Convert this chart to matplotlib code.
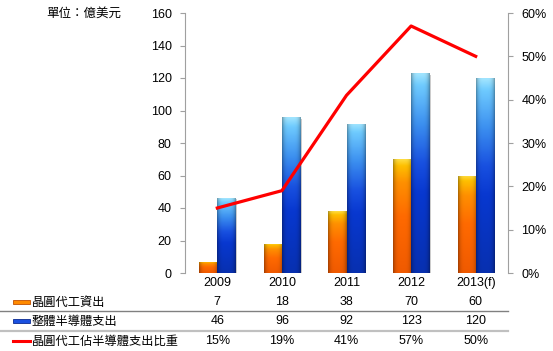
import numpy as np
import matplotlib.pyplot as plt
from matplotlib.colors import LinearSegmentedColormap
from matplotlib.transforms import blended_transform_factory

plt.rcParams['font.family'] = ['Liberation Sans', 'Noto Sans CJK TC', 'DejaVu Sans']

years = ["2009", "2010", "2011", "2012", "2013(f)"]
foundry = [7, 18, 38, 70, 60]
semi_total = [46, 96, 92, 123, 120]
share = [15, 19, 41, 57, 50]

row_names = ["晶圓代工資出", "整體半導體支出", "晶圓代工佔半導體支出比重"]

W, H = 553, 351
fig = plt.figure(figsize=(W / 100, H / 100), dpi=100)
ax = fig.add_axes([185 / W, 1 - 273 / H, (508 - 185) / W, (273 - 13) / H])
ax2 = ax.twinx()

x = np.arange(len(years))
bw = 0.28

# colour stops (position from bottom, colour)
orange_cmap = LinearSegmentedColormap.from_list(
    "o", [(0, "#f05a00"), (0.5, "#ff6a00"), (0.8, "#ff9000"),
          (0.95, "#ffc000"), (1, "#ffdc40")])
blue_cmap = LinearSegmentedColormap.from_list(
    "b", [(0, "#0830b0"), (0.4, "#0838d0"), (0.55, "#1850e0"),
          (0.75, "#3c90f0"), (0.95, "#70ccff"), (1, "#a0e4ff")])


def gradient_bars(ax, xs, heights, cmap):
    bars = ax.bar(xs, heights, bw, color="none", edgecolor="none", zorder=2)
    for b in bars:
        x0, w, h = b.get_x(), b.get_width(), b.get_height()
        v = np.linspace(0, 1, 80)[:, None]
        hshade = 1 - 0.3 * np.abs(np.linspace(-1, 1, 20))[None, :] ** 4
        img = cmap(np.clip(v * np.ones((1, 20)), 0, 1))
        img[..., :3] *= hshade[..., None]
        im = ax.imshow(img, extent=[x0, x0 + w, 0, h], origin="lower",
                       aspect="auto", zorder=3, interpolation="bilinear")
        im.set_clip_path(b)
        ax.add_patch(plt.Rectangle((x0 + w, 0), 0.025, h * 0.99,
                                   color="#cccccc", zorder=1, lw=0))
    return bars


gradient_bars(ax, x - bw / 2, foundry, orange_cmap)
gradient_bars(ax, x + bw / 2, semi_total, blue_cmap)

ax.set_xlim(-0.5, len(years) - 0.5)
ax.set_ylim(0, 160)
ax.set_yticks(range(0, 161, 20))
ax.set_xticks([])
for s in ["top", "bottom", "right"]:
    ax.spines[s].set_visible(False)
ax.spines["left"].set_color("#a0a0a0")
ax.tick_params(axis="y", colors="#a0a0a0", length=3.5, labelcolor="black",
               labelsize=9, pad=6)

ax2.plot(x, [s / 100 for s in share], color="#ff0000", lw=2.3, zorder=5)
ax2.set_ylim(0, 0.6)
ticks = np.arange(0, 0.61, 0.1)
ax2.set_yticks(ticks)
ax2.set_yticklabels([f"{int(round(t * 100))}%" for t in ticks])
for s in ["top", "bottom", "left"]:
    ax2.spines[s].set_visible(False)
ax2.spines["right"].set_color("#a0a0a0")
ax2.tick_params(axis="y", colors="#a0a0a0", length=3.5, labelcolor="black",
                labelsize=9, pad=6)
ax2.set_zorder(ax.get_zorder() + 1)
ax2.patch.set_visible(False)

fig.text(84 / W, 1 - 13 / H, "單位：億美元", fontsize=9, ha="center",
         va="center", family=['Noto Sans CJK TC', 'DejaVu Sans'])

# category labels and data table
blend = blended_transform_factory(ax.transData, fig.transFigure)
for i, yr in enumerate(years):
    ax.text(i, 1 - 283 / H, yr, transform=blend, ha="center", va="center",
            fontsize=9)

row_y = [302, 321, 341]
row_vals = [[str(v) for v in foundry], [str(v) for v in semi_total],
            [f"{v}%" for v in share]]
for ry, vals in zip(row_y, row_vals):
    for i, v in enumerate(vals):
        ax.text(i, 1 - ry / H, v, transform=blend, ha="center", va="center",
                fontsize=9)

# legend keys
key_styles = [("#ff8a00", "#c05000"), ("#1a50e0", "#0a2a90"), None]
for ry, name, ks in zip(row_y, row_names, key_styles):
    if ks is None:
        fig.add_artist(plt.Line2D([13 / W, 30 / W], [1 - ry / H, 1 - ry / H],
                                  color="#ff0000", lw=2.2))
    else:
        fig.add_artist(plt.Rectangle((13 / W, 1 - (ry + 2) / H), 17 / W, 4 / H,
                                     facecolor=ks[0], edgecolor=ks[1], lw=0.6))
    fig.text(32 / W, 1 - ry / H, name, fontsize=8.8, ha="left", va="center",
             family=['Noto Sans CJK TC', 'DejaVu Sans'])

fig.add_artist(plt.Line2D([0, 508 / W], [1 - 311 / H] * 2, color="#808080", lw=1))
fig.add_artist(plt.Line2D([0, 508 / W], [1 - 331 / H] * 2, color="#c0c0c0", lw=1.6))

fig.savefig("out.png", dpi=100)
